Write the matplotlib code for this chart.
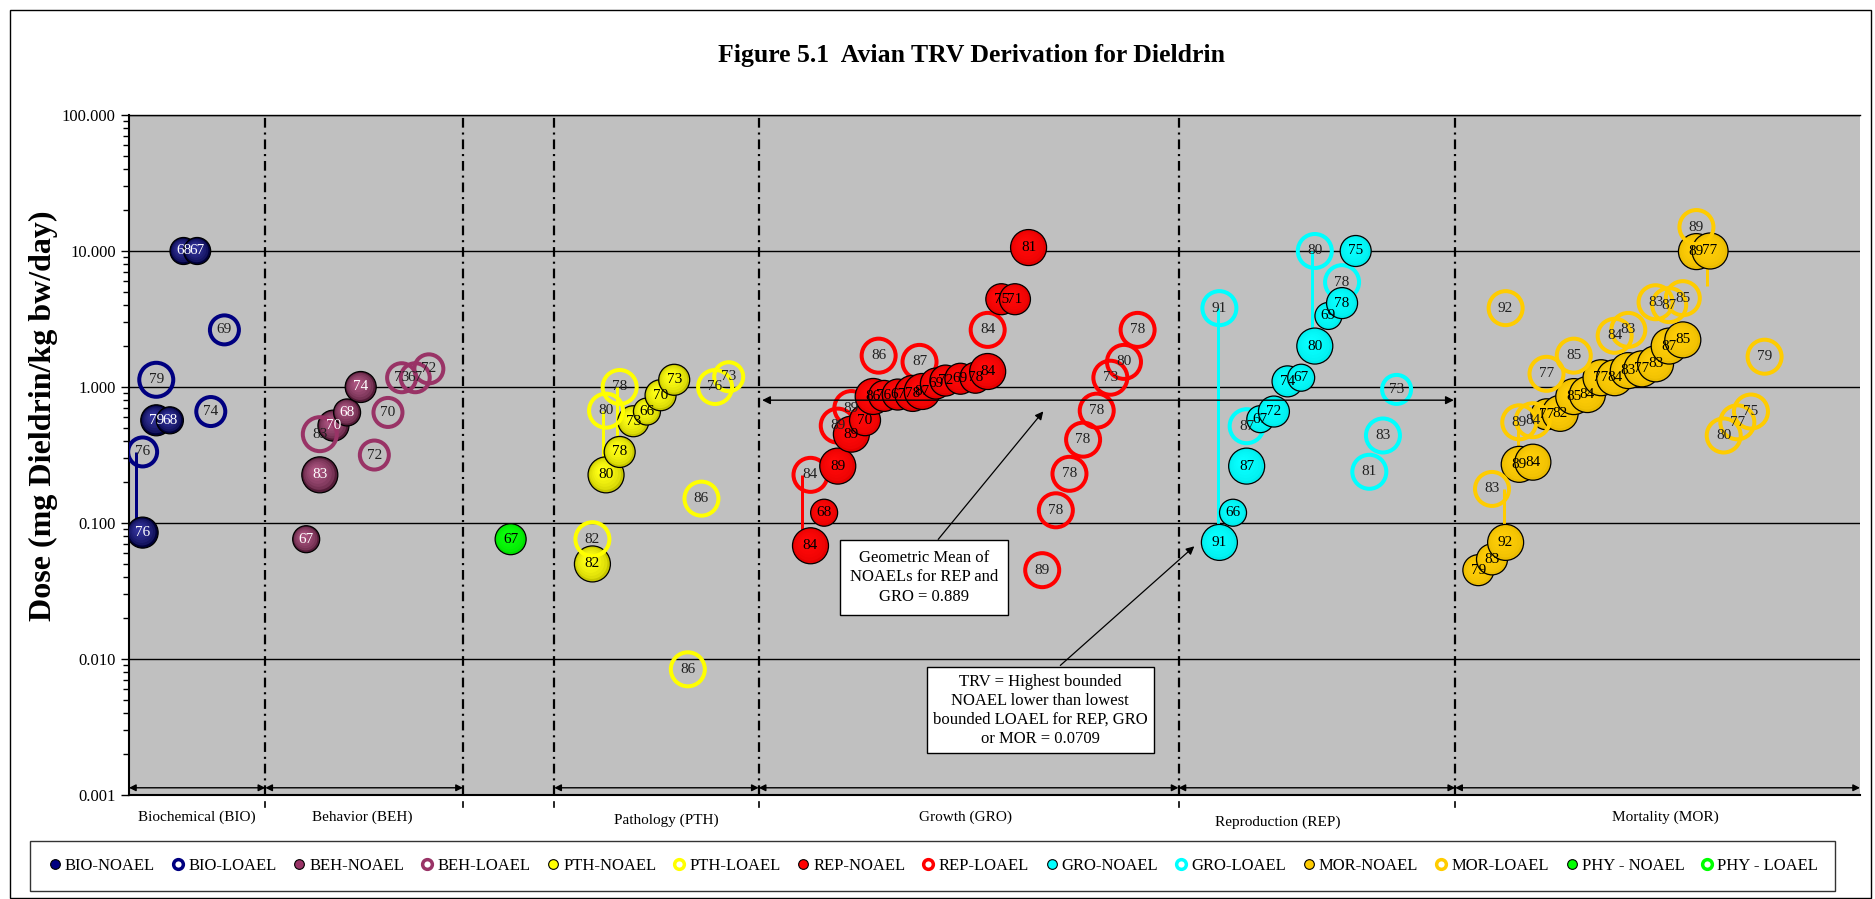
import numpy as np
import matplotlib
matplotlib.use("Agg")
import matplotlib.pyplot as plt
import matplotlib.colors as mcolors
import matplotlib.transforms as mtransforms
from matplotlib.lines import Line2D
from matplotlib.patches import Rectangle
from matplotlib.ticker import LogLocator, NullFormatter, FuncFormatter, FixedLocator

plt.rcParams['font.family'] = ['Liberation Serif', 'DejaVu Serif']
plt.rcParams['lines.scale_dashes'] = False

# ---- data (x = study index, y = dose, lab = study year, sz = bubble class) ----
bio_n_x = [4, 5, 2, 3, 1]
bio_n_y = [10.0, 10.0, 0.569, 0.569, 0.085]
bio_n_lab = ['68', '67', '79', '68', '76']
bio_n_sz = [1, 1, 2, 1, 2]

bio_l_x = [7, 2, 6, 1]
bio_l_y = [2.63, 1.13, 0.66, 0.333]
bio_l_lab = ['69', '79', '74', '76']
bio_l_sz = [2, 3, 2, 2]

beh_n_x = [13, 14, 15, 16, 17]
beh_n_y = [0.076, 0.226, 0.52, 0.65, 1.0]
beh_n_lab = ['67', '83', '70', '68', '74']
beh_n_sz = [1, 3, 2, 1, 2]

beh_l_x = [14, 19, 18, 20, 21, 22]
beh_l_y = [0.45, 0.65, 0.316, 1.17, 1.17, 1.36]
beh_l_lab = ['83', '70', '72', '73', '67', '72']
beh_l_sz = [3, 2, 2, 2, 2, 2]

phy_n_x = [28]
phy_n_y = [0.076]
phy_n_lab = ['67']
phy_n_sz = [2]

pth_n_x = [34, 35, 36, 37, 38, 39, 40]
pth_n_y = [0.050, 0.226, 0.333, 0.56, 0.66, 0.87, 1.13]
pth_n_lab = ['82', '80', '78', '73', '66', '70', '73']
pth_n_sz = [3, 3, 2, 2, 1, 2, 2]

pth_l_x = [36, 35, 43, 44, 42, 34, 41]
pth_l_y = [1.0, 0.67, 1.0, 1.19, 0.151, 0.076, 0.0084]
pth_l_lab = ['78', '80', '76', '73', '86', '82', '86']
pth_l_sz = [3, 3, 3, 2, 3, 3, 3]

rep_n_x = [50, 51, 52, 53, 54, 54.6, 55.4, 56.4, 57.5, 58.2, 59.2, 59.9, 61.0, 62.1, 63.0, 64, 65, 66]
rep_n_y = [0.068, 0.119, 0.262, 0.45, 0.57, 0.852, 0.86, 0.88, 0.897, 0.927, 1.06, 1.115, 1.15, 1.17, 1.30,
           4.42, 4.42, 10.6]
rep_n_lab = ['84', '68', '89', '89', '70', '86', '76', '67', '78', '87', '69', '72', '69', '78', '84',
             '75', '71', '81']
rep_n_sz = [3, 1, 3, 3, 2, 3, 2, 2, 3, 3, 2, 2, 2, 2, 3, 2, 2, 3]

rep_l_x = [55, 58, 63, 53, 52, 50, 74, 73, 72, 71, 70, 69, 68, 67]
rep_l_y = [1.70, 1.53, 2.63, 0.70, 0.52, 0.226, 2.63, 1.53, 1.17, 0.67, 0.41, 0.23, 0.124, 0.045]
rep_l_lab = ['86', '87', '84', '89', '89', '84', '78', '80', '73', '78', '78', '78', '78', '89']
rep_l_sz = [3] * 14

gro_n_x = [80, 81, 82, 83, 84, 85, 86, 87, 88, 89, 90]
gro_n_y = [0.072, 0.119, 0.262, 0.58, 0.66, 1.1, 1.17, 2.0, 3.33, 4.14, 10.0]
gro_n_lab = ['91', '66', '87', '67', '72', '74', '67', '80', '69', '78', '75']
gro_n_sz = [3, 1, 3, 1, 2, 2, 1, 3, 1, 2, 2]

gro_l_x = [87, 89, 80, 93, 92, 91, 82]
gro_l_y = [10.0, 5.9, 3.8, 0.96, 0.44, 0.238, 0.515]
gro_l_lab = ['80', '78', '91', '73', '83', '81', '87']
gro_l_sz = [3, 3, 3, 2, 3, 3, 3]

mor_n_x = [99, 100, 101, 102, 103, 104, 105, 106, 107, 108, 109, 110, 111, 112, 113, 114, 115, 116]
mor_n_y = [0.045, 0.054, 0.072, 0.27, 0.28, 0.63, 0.64, 0.85, 0.88, 1.17, 1.17, 1.32, 1.36, 1.48, 2.0, 2.22,
           9.9, 10.0]
mor_n_lab = ['79', '83', '92', '89', '84', '77', '82', '85', '84', '77', '84', '83', '77', '83', '87', '85',
             '89', '77']
mor_n_sz = [2, 2, 3, 3, 3, 2, 3, 3, 3, 3, 3, 3, 3, 3, 3, 3, 3, 3]

mor_l_x = [115, 114, 113, 112, 110, 109, 106, 104, 103, 102, 101, 100, 120, 119, 118, 117]
mor_l_y = [15.0, 4.5, 4.0, 4.2, 2.63, 2.38, 1.70, 1.25, 0.57, 0.55, 3.8, 0.178, 1.67, 0.66, 0.55, 0.44]
mor_l_lab = ['89', '85', '87', '83', '83', '84', '85', '77', '84', '89', '92', '83', '79', '75', '77', '80']
mor_l_sz = [3] * 16

# vertical links LOAEL -> NOAEL: x, upper dose, lower dose
link_x = [0.5, 34.75, 35.8, 49.4, 79.9, 86.8, 115.8, 101.9, 100.85]
link_top = [0.333, 0.67, 1.0, 0.226, 3.8, 10.0, 10.0, 0.55, 0.178]
link_bot = [0.085, 0.226, 0.333, 0.068, 0.072, 2.0, 5.5, 0.27, 0.072]
link_grp = ['BIO', 'PTH', 'PTH', 'REP', 'GRO', 'GRO', 'MOR', 'MOR', 'MOR']

# endpoint sections along the x axis
sec_edges = [(0, 10), (10, 24.5), (31.2, 46.2), (46.2, 77), (77, 97.3), (97.3, 127)]
sep_x = [10, 24.5, 31.2, 46.2, 77, 97.3]
sec_names = ['Biochemical (BIO)', 'Behavior (BEH)', 'Pathology (PTH)', 'Growth (GRO)',
             'Reproduction (REP)', 'Mortality (MOR)']
sec_lab_x = [5, 17.1, 39.4, 61.4, 84.3, 112.7]
sec_lab_dy = [0, 0, 0.005, 0, 0.008, 0]

geo_mean_line = 0.80
legend_labels = ['BIO-NOAEL', 'BIO-LOAEL', 'BEH-NOAEL', 'BEH-LOAEL', 'PTH-NOAEL', 'PTH-LOAEL',
                 'REP-NOAEL', 'REP-LOAEL', 'GRO-NOAEL', 'GRO-LOAEL', 'MOR-NOAEL', 'MOR-LOAEL',
                 'PHY - NOAEL', 'PHY - LOAEL']

colors = {'BIO': '#000080', 'BEH': '#993366', 'PTH': '#FFFF00', 'REP': '#FF0000',
          'GRO': '#00FFFF', 'MOR': '#FFCC00', 'PHY': '#00FF00'}
shade = {'BIO': 0.55, 'BEH': 0.45, 'PTH': 0.22, 'REP': 0.1, 'GRO': 0.08, 'MOR': 0.08, 'PHY': 0.12}

PX = 0.72  # points per pixel at 100 dpi
BALL_R = {1: 13.5, 2: 15.5, 3: 18}
RING_R = {1: 15, 2: 16.5, 3: 19}

fig = plt.figure(figsize=(18.75, 8.99), dpi=100)
ax = fig.add_axes([129 / 1875, 104 / 899, 1731 / 1875, 680 / 899])
ax.set_facecolor('#C0C0C0')
ax.set_yscale('log')
ax.set_xlim(0, 127)
ax.set_ylim(0.001, 100)

ax.yaxis.set_major_locator(FixedLocator([0.001, 0.01, 0.1, 1, 10, 100]))
ax.yaxis.set_major_formatter(FuncFormatter(lambda v, p: f'{v:.3f}'))
ax.yaxis.set_minor_locator(LogLocator(base=10, subs=np.arange(2, 10)))
ax.yaxis.set_minor_formatter(NullFormatter())
ax.tick_params(axis='y', which='major', direction='out', length=6, width=1, labelsize=12)
ax.tick_params(axis='y', which='minor', direction='out', length=4, width=1)
ax.set_xticks([])
ax.grid(True, axis='y', which='major', color='k', lw=1)
ax.set_axisbelow(True)
for s in ['left', 'bottom']:
    ax.spines[s].set_linewidth(1.5)
ax.spines['right'].set_visible(False)
ax.spines['top'].set_linewidth(1)

btrans = mtransforms.blended_transform_factory(ax.transData, ax.transAxes)
for xv in sep_x:
    ax.axvline(xv, color='k', lw=1.6, ls=(0, (7, 3.5, 1.5, 3.5)), zorder=1)
    ax.plot([xv, xv], [-0.017, -0.010], color='k', lw=1.2, transform=btrans, clip_on=False)

inv = ax.transData.inverted()


def draw_balls(xs, ys, szs, labs, grp, txtcolor, z):
    base = np.array(mcolors.to_rgb(colors[grp]))
    s = shade[grp]
    dark = base * (1 - s)
    light = base + (1 - base) * s * 0.35
    n = 7
    ts = np.linspace(0, 1, n)
    for xi, yi, si, li in zip(xs, ys, szs, labs):
        r = BALL_R[si]
        cx, cy = ax.transData.transform((xi, yi))
        pts = inv.transform(np.column_stack([cx - 0.22 * r * ts, cy + 0.22 * r * ts]))
        sizes = (2 * r * PX * (1 - 0.78 * ts)) ** 2
        cols = [np.clip(dark + (light - dark) * np.sqrt(t), 0, 1) for t in ts]
        ax.scatter(pts[:, 0], pts[:, 1], s=sizes, c=cols,
                   edgecolors=['k'] + ['none'] * (n - 1),
                   linewidths=[0.9] + [0] * (n - 1), zorder=z)
        ax.text(xi, yi, li, ha='center', va='center', fontsize=11, color=txtcolor, zorder=20)
        z += 0.001


def draw_rings(xs, ys, szs, labs, grp, z):
    for xi, yi, si, li in zip(xs, ys, szs, labs):
        r = RING_R[si]
        ax.scatter([xi], [yi], s=(2 * (r - 2) * PX) ** 2, facecolors='none',
                   edgecolors=colors[grp], linewidths=4 * PX, zorder=z)
        ax.text(xi, yi, li, ha='center', va='center', fontsize=11, color='#202020', zorder=20)


# links behind markers
for xv, y1, y2, g in zip(link_x, link_top, link_bot, link_grp):
    ax.plot([xv, xv], [y1, y2], color=colors[g], lw=3 * PX, zorder=2.5, solid_capstyle='butt')

draw_balls(bio_n_x, bio_n_y, bio_n_sz, bio_n_lab, 'BIO', 'white', 3)
draw_rings(bio_l_x, bio_l_y, bio_l_sz, bio_l_lab, 'BIO', 4)
draw_balls(beh_n_x, beh_n_y, beh_n_sz, beh_n_lab, 'BEH', 'white', 3)
draw_rings(beh_l_x, beh_l_y, beh_l_sz, beh_l_lab, 'BEH', 4)
draw_balls(phy_n_x, phy_n_y, phy_n_sz, phy_n_lab, 'PHY', 'black', 3)
draw_balls(pth_n_x, pth_n_y, pth_n_sz, pth_n_lab, 'PTH', 'black', 3)
draw_rings(pth_l_x, pth_l_y, pth_l_sz, pth_l_lab, 'PTH', 4)
draw_rings(rep_l_x, rep_l_y, rep_l_sz, rep_l_lab, 'REP', 3)
draw_balls(rep_n_x, rep_n_y, rep_n_sz, rep_n_lab, 'REP', 'black', 4)
draw_rings(gro_l_x, gro_l_y, gro_l_sz, gro_l_lab, 'GRO', 3)
draw_balls(gro_n_x, gro_n_y, gro_n_sz, gro_n_lab, 'GRO', 'black', 4)
draw_balls(mor_n_x, mor_n_y, mor_n_sz, mor_n_lab, 'MOR', 'black', 3)
draw_rings(mor_l_x, mor_l_y, mor_l_sz, mor_l_lab, 'MOR', 4)

# section arrows along the bottom
arr_y = 0.00113
for x1, x2 in sec_edges:
    ax.annotate('', xy=(x2, arr_y), xytext=(x1, arr_y),
                arrowprops=dict(arrowstyle='<|-|>', color='k', lw=1, mutation_scale=10,
                                shrinkA=0, shrinkB=0), zorder=6)

for name, xv, dy in zip(sec_names, sec_lab_x, sec_lab_dy):
    ax.text(xv, -0.032 - dy, name, transform=btrans, ha='center', va='center', fontsize=11)

# geometric mean line
ax.annotate('', xy=(97.2, geo_mean_line), xytext=(46.45, geo_mean_line),
            arrowprops=dict(arrowstyle='<|-|>', color='k', lw=1, mutation_scale=12,
                            shrinkA=0, shrinkB=0), zorder=6)

ax.text(58.34, 0.040, 'Geometric Mean of\nNOAELs for REP and\nGRO = 0.889', ha='center', va='center',
        fontsize=12, zorder=22, linespacing=1.3,
        bbox=dict(boxstyle='square,pad=0.6', fc='white', ec='k', lw=1))
ax.annotate('', xy=(67.08, 0.662), xytext=(59.37, 0.0758),
            arrowprops=dict(arrowstyle='-|>', color='k', lw=0.9, mutation_scale=12,
                            shrinkA=0, shrinkB=0), zorder=21)
ax.text(66.86, 0.00421, 'TRV = Highest bounded\nNOAEL lower than lowest\nbounded LOAEL for REP, GRO\nor MOR = 0.0709',
        ha='center', va='center', fontsize=12, zorder=22, linespacing=1.25,
        bbox=dict(boxstyle='square,pad=0.38', fc='white', ec='k', lw=1))
ax.annotate('', xy=(78.16, 0.0674), xytext=(68.33, 0.00897),
            arrowprops=dict(arrowstyle='-|>', color='k', lw=0.9, mutation_scale=12,
                            shrinkA=0, shrinkB=0), zorder=21)

ax.text(-0.0495, 0.557, 'Dose (mg Dieldrin/kg bw/day)', transform=ax.transAxes, rotation=90,
        ha='center', va='center', fontsize=23, fontweight='bold')
fig.text(0.518, 0.938, 'Figure 5.1  Avian TRV Derivation for Dieldrin', ha='center', va='center',
         fontsize=18.5, fontweight='bold')

# legend
grp_order = ['BIO', 'BIO', 'BEH', 'BEH', 'PTH', 'PTH', 'REP', 'REP', 'GRO', 'GRO', 'MOR', 'MOR', 'PHY', 'PHY']
handles = []
for i, g in enumerate(grp_order):
    if i % 2 == 0:
        handles.append(Line2D([], [], ls='', marker='o', markersize=7, markerfacecolor=colors[g],
                              markeredgecolor='k', markeredgewidth=0.8))
    else:
        handles.append(Line2D([], [], ls='', marker='o', markersize=7, markerfacecolor='white',
                              markeredgecolor=colors[g], markeredgewidth=2.5))
leg = fig.legend(handles, legend_labels, loc='center', ncol=14, mode='expand',
                 bbox_to_anchor=(30 / 1875, 8 / 899, 1805 / 1875, 50 / 899), fontsize=12,
                 handletextpad=0.1, handlelength=1.0, borderaxespad=0, borderpad=1.0, frameon=True,
                 fancybox=False, edgecolor='k', columnspacing=0.5)
leg.get_frame().set_linewidth(1)

fig.patches.append(Rectangle((10 / 1875, 1 / 899), 1861 / 1875, 888 / 899, transform=fig.transFigure,
                             fill=False, ec='k', lw=1))

fig.savefig('out.png', dpi=100)
